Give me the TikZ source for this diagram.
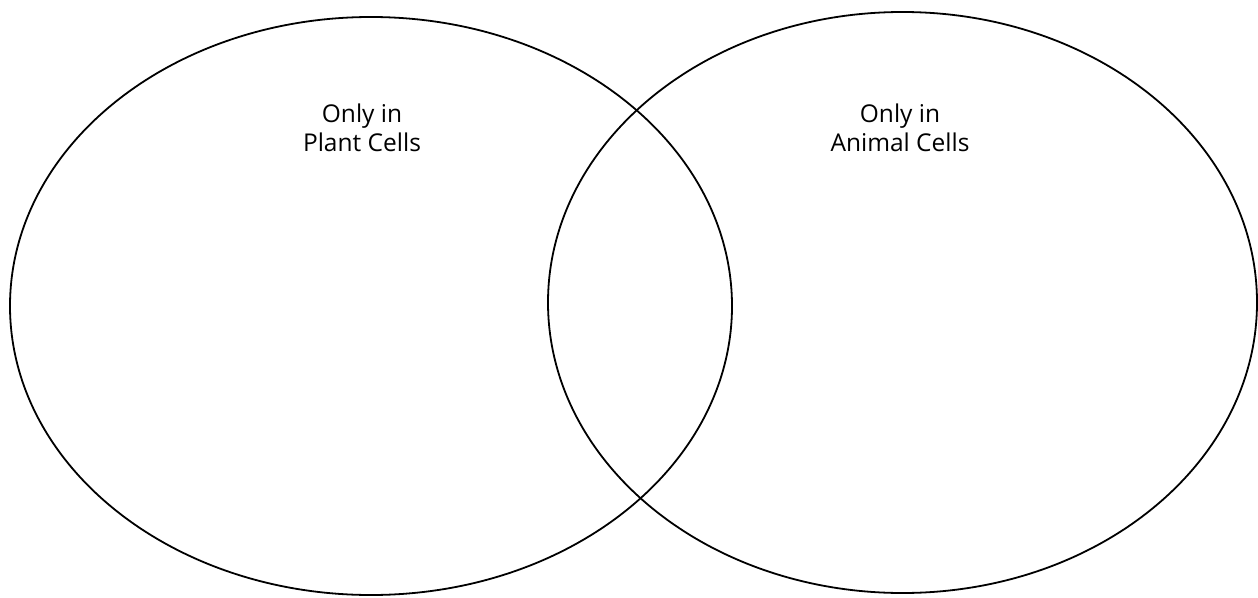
\documentclass[tikz,border=0pt]{standalone}
\usepackage{fontspec}
\setmainfont{Open Sans}
\begin{document}
\begin{tikzpicture}[x=1pt,y=-1pt,
  setcircle/.style={draw=black,line width=1.8pt},
  setlabel/.style={align=center,font=\fontsize{24.5}{29}\selectfont,inner sep=0pt}]
\useasboundingbox[fill=white] (0,0) rectangle (1258,597);
\draw[setcircle] (371,306) ellipse [x radius=361, y radius=289];
\draw[setcircle] (902.5,302.5) ellipse [x radius=354.5, y radius=290.5];
\node[setlabel] (plant) at (362,128) {Only in\\Plant Cells};
\node[setlabel] (animal) at (900,128) {Only in\\Animal Cells};
\end{tikzpicture}
\end{document}
